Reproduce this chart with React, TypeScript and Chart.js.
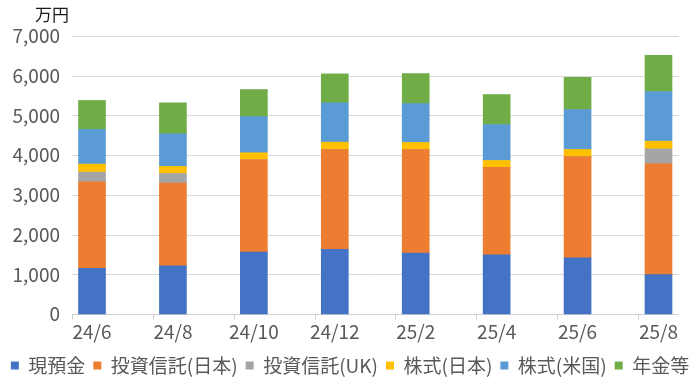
import React, { useEffect, useRef } from "react";
import { Chart, registerables } from "chart.js";

Chart.register(...registerables);

const categories = ["24/6", "24/8", "24/10", "24/12", "25/2", "25/4", "25/6", "25/8"];

const cashDeposits = [1150, 1216, 1560, 1627, 1535, 1493, 1417, 990];
const fundsJapan = [2180, 2080, 2323, 2516, 2608, 2197, 2549, 2792];
const fundsUK = [243, 243, 0, 0, 0, 0, 0, 377];
const stocksJapan = [202, 176, 176, 184, 176, 176, 177, 193];
const stocksUS = [872, 822, 913, 990, 981, 906, 1006, 1250];
const pensions = [729, 780, 680, 729, 754, 754, 813, 914];

const seriesNames = ["現預金", "投資信託(日本)", "投資信託(UK)", "株式(日本)", "株式(米国)", "年金等"];
const seriesColors = ["#4472C4", "#ED7D31", "#A5A5A5", "#FFC000", "#5B9BD5", "#70AD47"];

const yTickValues = [0, 1000, 2000, 3000, 4000, 5000, 6000, 7000];
const unitLabel = "万円";

const FONT = '"Noto Sans CJK JP", "Noto Sans", sans-serif';
const TEXT_COLOR = "#595959";

const framePlugin = {
  id: "frame",
  beforeDatasetsDraw(chart: any) {
    const { ctx, scales } = chart;
    const x = scales.x;
    const y = scales.y;
    const step = x.getPixelForValue(1) - x.getPixelForValue(0);
    const left = x.getPixelForValue(0) - step * 0.25;
    const right = x.getPixelForValue(categories.length - 1) + step * 0.25;
    ctx.save();
    ctx.lineWidth = 1;
    ctx.strokeStyle = "#D9D9D9";
    yTickValues.forEach((v) => {
      if (v === 0) return;
      const py = Math.round(y.getPixelForValue(v)) + 0.5;
      ctx.beginPath();
      ctx.moveTo(left, py);
      ctx.lineTo(right, py);
      ctx.stroke();
    });
    const y0 = Math.round(y.getPixelForValue(0)) + 0.5;
    ctx.strokeStyle = "#D0D0D0";
    ctx.beginPath();
    ctx.moveTo(left, y0);
    ctx.lineTo(right, y0);
    ctx.stroke();
    categories.forEach((_, i) => {
      const px = Math.round(x.getPixelForValue(i) - step * 0.25) + 0.5;
      ctx.beginPath();
      ctx.moveTo(px, y0);
      ctx.lineTo(px, y0 + 5);
      ctx.stroke();
    });
    ctx.restore();
  },
  afterDraw(chart: any) {
    const { ctx } = chart;
    ctx.save();
    ctx.fillStyle = "#1a1a1a";
    ctx.font = `17px ${FONT}`;
    ctx.textBaseline = "middle";
    ctx.textAlign = "left";
    ctx.fillText(unitLabel, 35, 15);
    ctx.restore();
  },
};

export default function App() {
  const canvasRef = useRef<HTMLCanvasElement | null>(null);

  useEffect(() => {
    if (!canvasRef.current) return;
    const seriesValues = [cashDeposits, fundsJapan, fundsUK, stocksJapan, stocksUS, pensions];
    const chart = new Chart(canvasRef.current, {
      type: "bar",
      data: {
        labels: categories,
        datasets: seriesNames.map((name, i) => ({
          label: name,
          data: seriesValues[i],
          backgroundColor: seriesColors[i],
          borderWidth: 0,
          barThickness: 27,
          clip: false as any,
        })),
      },
      options: {
        animation: false,
        responsive: true,
        maintainAspectRatio: false,
        devicePixelRatio: 1,
        layout: { padding: { top: 36, left: 0, right: 0, bottom: 0 } },
        plugins: {
          tooltip: { enabled: false },
          legend: {
            position: "bottom",
            maxHeight: 34,
            labels: {
              boxWidth: 8,
              boxHeight: 8,
              padding: 8,
              color: TEXT_COLOR,
              font: { size: 19, family: FONT },
            },
          },
        },
        scales: {
          x: {
            stacked: true,
            offset: false,
            grid: { display: false, drawTicks: false },
            border: { display: false },
            ticks: {
              color: TEXT_COLOR,
              font: { size: 19, family: FONT },
              padding: 6,
              autoSkip: false,
              maxRotation: 0,
              minRotation: 0,
            },
            afterFit: (scale: any) => {
              scale.height = 34;
            },
          },
          y: {
            stacked: true,
            min: 0,
            max: 7000,
            grid: { display: false, drawTicks: false },
            border: { display: false },
            ticks: {
              stepSize: 1000,
              color: TEXT_COLOR,
              font: { size: 19, family: FONT },
              padding: 32,
              callback: (v: any) => Number(v).toLocaleString("en-US"),
            },
            afterFit: (scale: any) => {
              scale.width = 92;
              scale.paddingTop = 11;
              scale.paddingBottom = 11;
            },
          },
          yRight: {
            type: "linear",
            position: "right",
            grid: { display: false, drawTicks: false },
            border: { display: false },
            ticks: { display: false },
            afterFit: (scale: any) => {
              scale.width = 41.5;
            },
          },
        },
      },
      plugins: [framePlugin],
    });
    return () => chart.destroy();
  }, []);

  return (
    <div style={{ position: "absolute", left: 0, top: 0, width: 700, height: 382, background: "#fff" }}>
      <canvas ref={canvasRef} />
    </div>
  );
}
